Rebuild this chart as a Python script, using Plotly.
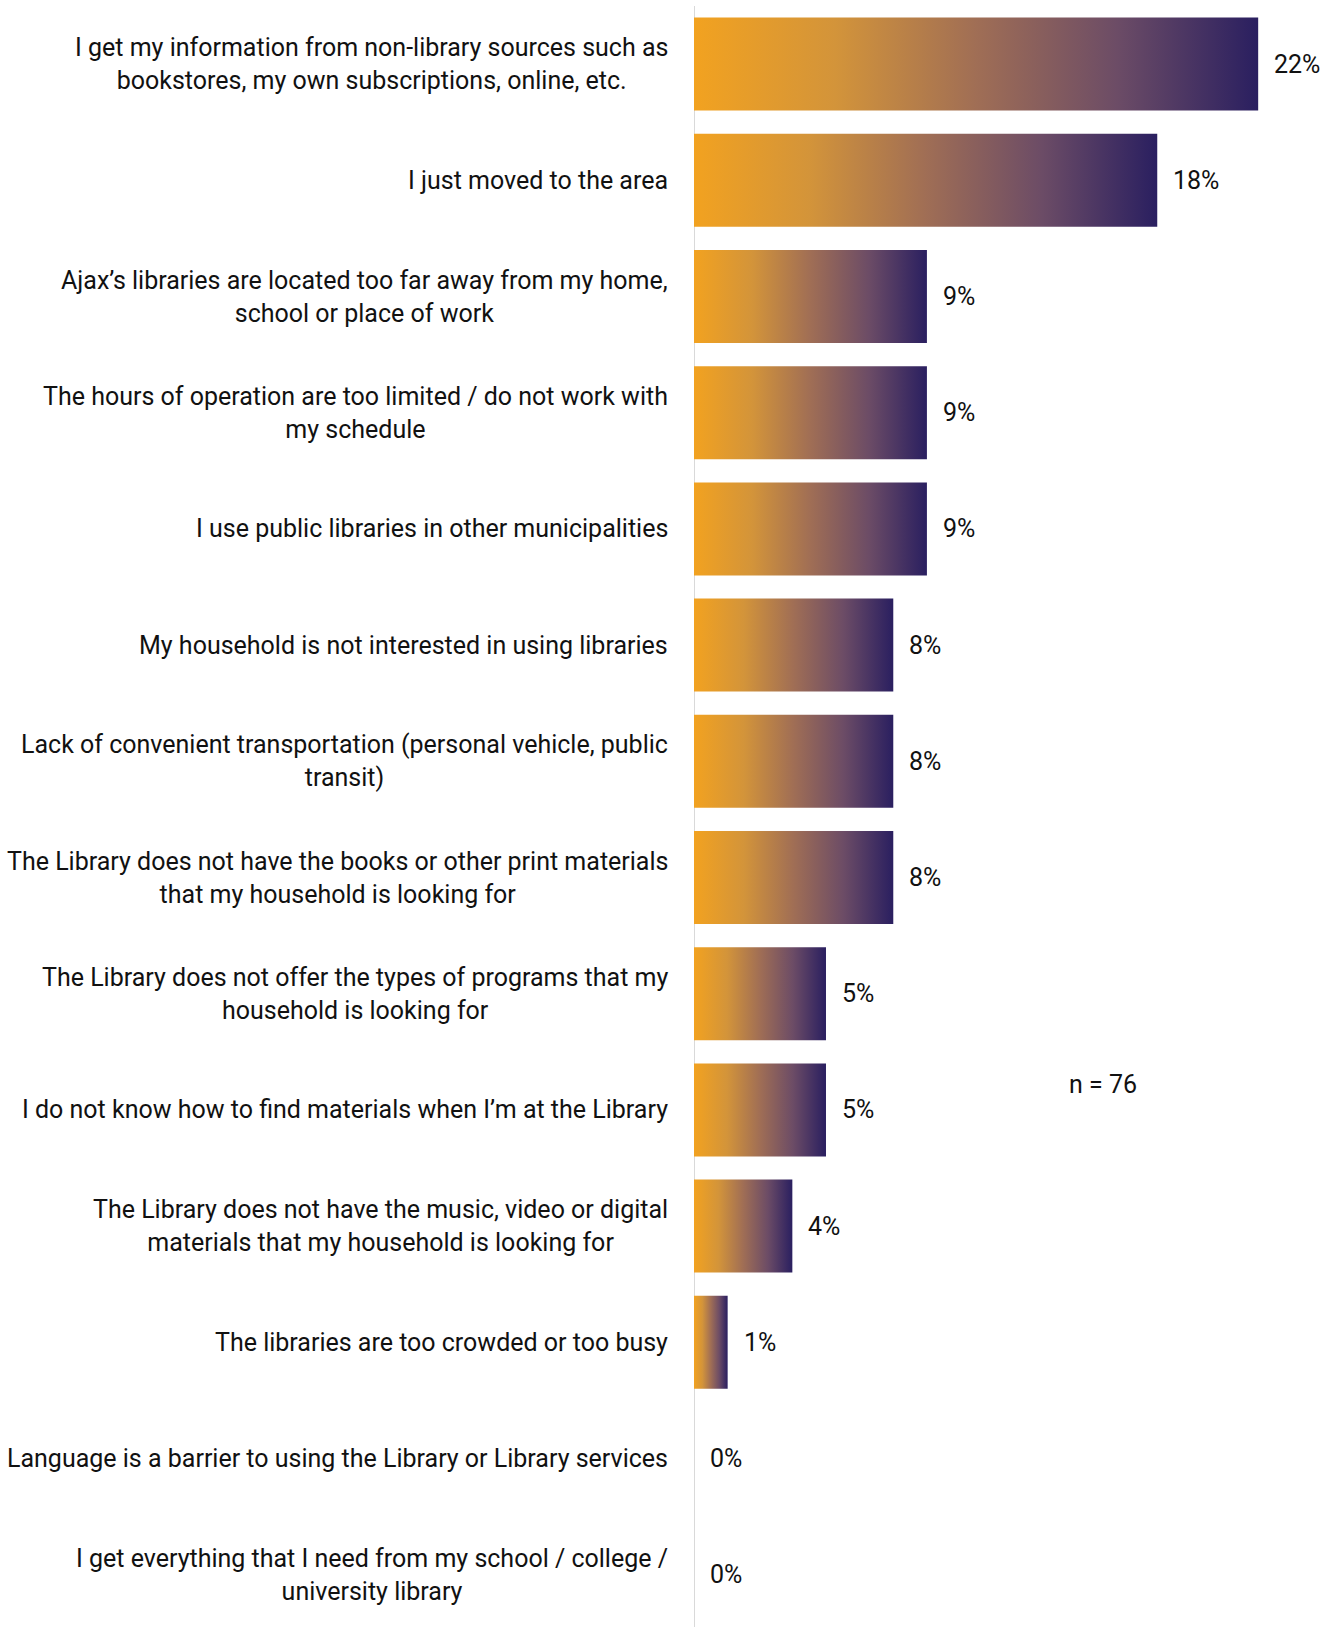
import plotly.graph_objects as go

# Reasons for not using the library (share of mentions, %), top to bottom
reasons = [
    "I get my information from non-library sources such as<br>bookstores, my own subscriptions, online, etc.",
    "I just moved to the area",
    "Ajax’s libraries are located too far away from my home,<br>school or place of work",
    "The hours of operation are too limited / do not work with<br>my schedule",
    "I use public libraries in other municipalities",
    "My household is not interested in using libraries",
    "Lack of convenient transportation (personal vehicle, public<br>transit)",
    "The Library does not have the books or other print materials<br>that my household is looking for",
    "The Library does not offer the types of programs that my<br>household is looking for",
    "I do not know how to find materials when I’m at the Library",
    "The Library does not have the music, video or digital<br>materials that my household is looking for",
    "The libraries are too crowded or too busy",
    "Language is a barrier to using the Library or Library services",
    "I get everything that I need from my school / college /<br>university library",
]
shares = [21.8, 17.9, 9.0, 9.0, 9.0, 7.7, 7.7, 7.7, 5.1, 5.1, 3.8, 1.3, 0.0, 0.0]
sample_note = "n = 76"

# orange -> indigo gradient along each bar
BAR_GRADIENT = [
    [0.0, "#F2A220"],
    [0.25, "#D3943A"],
    [0.5, "#A06E55"],
    [0.75, "#6C4C66"],
    [1.0, "#2A1F60"],
]
FONT = "Roboto, sans-serif"
TEXT_COLOR = "#111111"
HALF = 0.4  # half bar thickness in category units

fig = go.Figure()

for i, v in enumerate(shares):
    if v > 0:
        fig.add_trace(go.Scatter(
            x=[0, v, v, 0, 0],
            y=[i - HALF, i - HALF, i + HALF, i + HALF, i - HALF],
            mode="lines",
            line=dict(width=0),
            fill="toself",
            fillgradient=dict(
                type="horizontal",
                colorscale=BAR_GRADIENT,
                start=0,
                stop=v,
            ),
            hoverinfo="skip",
            showlegend=False,
        ))
    # value label to the right of the bar
    fig.add_annotation(
        x=v, y=i, xref="x", yref="y",
        text=f"{v:.0f}%",
        showarrow=False, xanchor="left", yanchor="middle",
        xshift=14,
        font=dict(family=FONT, size=25, color=TEXT_COLOR),
    )
    # category label left of the axis
    fig.add_annotation(
        x=0, y=i, xref="paper", yref="y",
        text=reasons[i],
        showarrow=False, xanchor="right", yanchor="middle",
        align="center", xshift=-24,
        font=dict(family=FONT, size=25, color=TEXT_COLOR),
    )

fig.add_annotation(
    x=15.8, y=8.78, xref="x", yref="y",
    text=sample_note, showarrow=False,
    xanchor="center", yanchor="middle",
    font=dict(family=FONT, size=25, color=TEXT_COLOR),
)

PLOT_LEFT = 694
PX_PER_PCT = 25.88
W, H = 1333, 1627
TOP = 6
ROW_PX = 116.2

fig.update_layout(
    width=W, height=H,
    margin=dict(l=PLOT_LEFT, r=0, t=TOP, b=0),
    paper_bgcolor="white", plot_bgcolor="white",
    xaxis=dict(
        range=[0, (W - PLOT_LEFT) / PX_PER_PCT],
        showgrid=False, zeroline=False, showticklabels=False,
        showline=False, fixedrange=True,
    ),
    yaxis=dict(
        range=[-0.5 + (H - TOP) / ROW_PX, -0.5],
        showgrid=False, zeroline=False, showticklabels=False,
        showline=False, fixedrange=True,
    ),
    shapes=[dict(
        type="line", xref="x", yref="paper",
        x0=0, x1=0, y0=0, y1=1,
        line=dict(color="#D9D9D9", width=2),
        layer="below",
    )],
)

fig.write_html("out.html")
